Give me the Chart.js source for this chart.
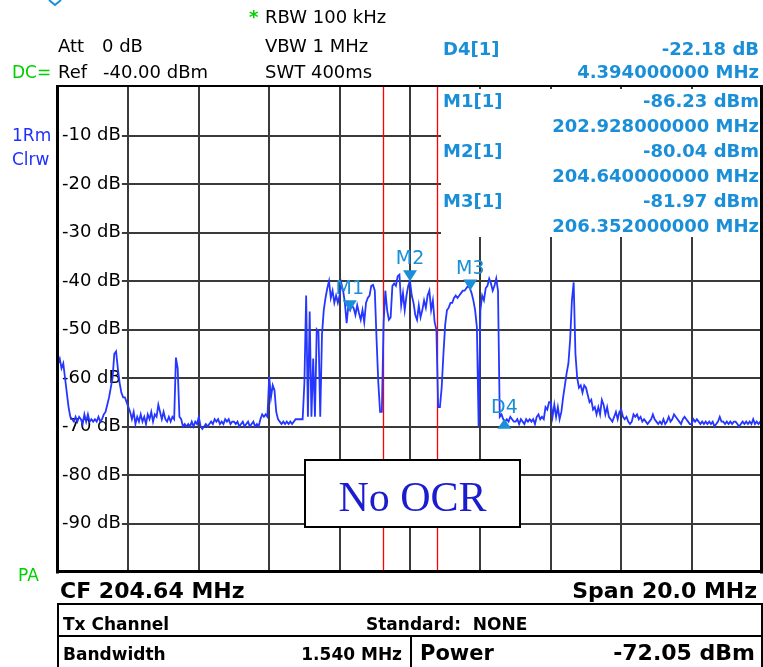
<!DOCTYPE html>
<html>
<head>
<meta charset="utf-8">
<title>Spectrum - Tx Channel</title>
<script src="https://cdn.jsdelivr.net/npm/chart.js@4.4.1/dist/chart.umd.min.js"></script>
<style>
  html, body { margin: 0; padding: 0; background: #fff; }
  #wrap { width: 763px; height: 667px; position: relative; }
</style>
</head>
<body>
<div id="wrap"><canvas id="spectrum"></canvas></div>
<script>
// --- DATA ---
const CF = 204.64;         // MHz
const SPAN = 20;           // MHz
const REF_LEVEL = -40;     // dBm
const CHANNEL_BW = 1.54;   // MHz
const CHANNEL_POWER = -72.05; // dBm
const yMin = -100;
const yMax = 0;
const yStep = 10;

// trace, 401 sweep points (dB rel. ref), one row = 1 MHz
const traceLevels = [
  -57, -56, -58, -57, -60, -63, -66, -68, -68.5, -69, -68, -69, -68, -68.5, -69.5, -67.5, -69, -67.5, -69, -68.5,
  -69, -68.5, -69, -68, -69, -68.5, -67.5, -67, -65.5, -64, -62, -60, -55, -54.5, -58, -61, -63, -64, -64, -65,
  -66, -67, -68.5, -67, -69.5, -68, -69, -67.5, -69, -68, -69.5, -67.5, -68.5, -67, -69, -67.5, -68, -65.5, -67, -68.5,
  -67, -68.5, -69, -68, -69, -68, -68.5, -55.8, -58, -68, -68.5, -70, -69.5, -70, -69.5, -70, -69, -70, -69, -69.5,
  -68, -70, -70.5, -70, -69.5, -70, -69.5, -69, -69.5, -68.5, -69, -68.5, -69.5, -69, -69.5, -68.5, -69, -68.5, -69.5, -69,
  -69, -69.5, -69, -70, -69.5, -69, -70, -69.5, -69, -70, -69.5, -69, -70, -69.5, -70, -68.5, -67.5, -68, -67.5, -68,
  -59.7, -64, -61.5, -62.5, -67, -68.5, -69, -69.5, -69, -69.5, -69, -69.5, -69, -69.5, -69, -68.5, -68.5, -68.5, -68.5, -68.5,
  -61, -43, -68, -46.3, -68, -56, -68, -50, -50.5, -68, -51, -46, -43.5, -41.5, -40, -43.5, -42, -44.5, -43, -44.5,
  -43, -40.5, -42, -44.5, -48.7, -45, -46, -45, -45.6, -47, -45, -46.6, -48, -46, -48.5, -44.5, -43.5, -43, -41, -40.8,
  -42, -52, -61, -67, -67, -48.6, -42, -46, -48, -47.5, -41, -40.5, -41, -39, -38.7, -45, -42.5, -46, -43, -41,
  -40, -43, -44.5, -47, -48, -45, -47.5, -46, -44, -45.5, -43, -42, -46, -44, -48.5, -50, -66, -66, -62, -55,
  -49, -46, -45.5, -44.5, -44.5, -43.5, -43, -43.5, -43, -42.5, -42, -42, -41.5, -41, -41.5, -42.5, -44, -46, -49.5, -70,
  -46, -43, -44, -41.5, -41, -39.5, -40.5, -42, -41, -39.5, -42, -68, -67.5, -68.5, -69, -68.5, -69, -68, -68.5, -69,
  -69, -68.5, -69.5, -68.5, -69, -69.5, -68.5, -69, -68.5, -69, -68.5, -69.5, -68, -67.5, -68.5, -68, -68.5, -66, -66.5, -65,
  -65, -68, -65.5, -68, -66, -68.5, -67, -64, -61.5, -59, -57, -52, -44, -40.3, -55, -60, -62, -61.5, -63, -61.5,
  -62, -63.5, -65, -64.5, -66.5, -66, -67.5, -66, -67.5, -64.5, -65.5, -67.5, -66, -68, -68.5, -69, -68, -67, -68.5, -67,
  -66.5, -68, -68.5, -68, -69, -69.5, -69, -67.5, -68, -67.5, -68.5, -68, -69, -68.5, -69, -69.5, -69, -68.5, -67.5, -68.5,
  -69, -69.5, -69, -69.5, -68.5, -69.5, -69, -68, -69, -68.5, -67.5, -68, -68.5, -69, -69.5, -68.5, -68, -68.5, -69, -69.5,
  -69.5, -68.5, -69, -68.5, -69, -69.5, -69, -69.5, -69, -69.5, -69, -69.5, -69, -70, -69.5, -69, -68, -69, -69, -69.5,
  -69, -69.5, -69, -69.5, -69, -69, -69.5, -70, -69.5, -69, -69.5, -69, -69.5, -69, -69.5, -68.5, -69.5, -69, -69.5, -69,
  -69
];

// markers (readouts in dBm / MHz)
const markerNames = ["M1", "M2", "M3"];
const markerFreqs = [202.928, 204.640, 206.352];
const markerLevels = [-86.23, -80.04, -81.97];
// delta marker, relative to M1
const deltaName = "D4";
const deltaFreq = 4.394;
const deltaLevel = -22.18;

// --- STYLE ---
const FONT = '"DejaVu Sans", Verdana, sans-serif';
const SKY = "#1a8fd8";
const TRACE = "#2436ff";
const GRID = "#3a3a3a";
const GREEN = "#00d000";

const sweepStart = CF - SPAN / 2;
const sweepStep = SPAN / (traceLevels.length - 1);
const tracePoints = traceLevels.map((v, i) => ({ x: sweepStart + i * sweepStep, y: v }));
const gridFreqs = Array.from({ length: 11 }, (_, k) => sweepStart + k * SPAN / 10);

function drawText(ctx, str, x, y, font, color, align) {
    ctx.font = font;
    ctx.fillStyle = color;
    ctx.textAlign = align || "left";
    ctx.textBaseline = "alphabetic";
    ctx.fillText(str, x, y);
}

const analyzerDecor = {
    id: "analyzerDecor",
    beforeDatasetsDraw(chart) {
        const { ctx, chartArea: a, scales: { x, y } } = chart;
        ctx.save();

        // horizontal grid starts right after the level labels
        ctx.font = `18px ${FONT}`;
        ctx.strokeStyle = GRID;
        ctx.lineWidth = 2;
        y.ticks.forEach(t => {
            if (t.value === yMin || t.value === yMax) return;
            const py = Math.round(y.getPixelForValue(t.value));
            const x0 = a.left + 4 + ctx.measureText(t.value + " dB").width + 1;
            ctx.beginPath();
            ctx.moveTo(x0, py);
            ctx.lineTo(a.right, py);
            ctx.stroke();
        });

        // marker table covers the grid
        ctx.fillStyle = "#fff";
        ctx.fillRect(441, a.top + 2, a.right - 442, 148);

        // channel limits
        ctx.strokeStyle = "#ff0000";
        ctx.lineWidth = 1.3;
        [CF - CHANNEL_BW / 2, CF + CHANNEL_BW / 2].forEach(f => {
            const px = Math.round(x.getPixelForValue(f)) + 0.5;
            ctx.beginPath();
            ctx.moveTo(px, a.top);
            ctx.lineTo(px, a.bottom);
            ctx.stroke();
        });
        ctx.restore();
    },
    afterDatasetsDraw(chart) {
        const { ctx, chartArea: a, scales: { x, y } } = chart;
        ctx.save();

        // markers
        const drawMarker = (name, f, lvl, up) => {
            const px = x.getPixelForValue(f);
            const py = y.getPixelForValue(lvl);
            ctx.fillStyle = SKY;
            ctx.beginPath();
            if (up) {
                ctx.moveTo(px, py); ctx.lineTo(px - 7, py + 10); ctx.lineTo(px + 7, py + 10);
            } else {
                ctx.moveTo(px, py); ctx.lineTo(px - 7, py - 11); ctx.lineTo(px + 7, py - 11);
            }
            ctx.closePath();
            ctx.fill();
            drawText(ctx, name, px, up ? py - 6 : py - 17, `19px ${FONT}`, SKY, "center");
        };
        markerNames.forEach((n, i) => drawMarker(n, markerFreqs[i], markerLevels[i] - REF_LEVEL, false));
        drawMarker(deltaName, markerFreqs[0] + deltaFreq, markerLevels[0] - REF_LEVEL + deltaLevel, true);

        // frame
        ctx.strokeStyle = "#000";
        ctx.lineWidth = 3;
        ctx.beginPath();
        ctx.moveTo(57.5, a.top - 1); ctx.lineTo(57.5, a.bottom + 1.5);
        ctx.moveTo(56, a.bottom - 0.5); ctx.lineTo(763, a.bottom - 0.5);
        ctx.moveTo(761.5, a.top - 1); ctx.lineTo(761.5, a.bottom + 1.5);
        ctx.stroke();
        ctx.lineWidth = 2;
        ctx.beginPath();
        ctx.moveTo(56, a.top - 1); ctx.lineTo(763, a.top - 1);
        ctx.stroke();

        // watermark box
        ctx.fillStyle = "#fff";
        ctx.fillRect(305, 460, 215, 67);
        ctx.strokeStyle = "#000";
        ctx.lineWidth = 2;
        ctx.strokeRect(305, 460, 215, 67);
        drawText(ctx, "No OCR", 412.5, 511, '42px "Liberation Serif", "Times New Roman", serif', "#1c1ccf", "center");

        // header
        const f18 = `18px ${FONT}`;
        drawText(ctx, "Att", 58, 52, f18, "#000");
        drawText(ctx, "0 dB", 102, 52, f18, "#000");
        drawText(ctx, "Ref", 58, 78, f18, "#000");
        drawText(ctx, REF_LEVEL.toFixed(2) + " dBm", 103, 78, f18, "#000");
        drawText(ctx, "*", 249, 23, `bold 18px ${FONT}`, GREEN);
        drawText(ctx, "RBW 100 kHz", 265, 23, f18, "#000");
        drawText(ctx, "VBW 1 MHz", 265, 52, f18, "#000");
        drawText(ctx, "SWT 400ms", 265, 78, f18, "#000");
        drawText(ctx, "DC=", 12, 78, `17px ${FONT}`, GREEN);
        drawText(ctx, "1Rm", 12, 141, `17px ${FONT}`, "#1f2fff");
        drawText(ctx, "Clrw", 12, 165, `17px ${FONT}`, "#1f2fff");
        drawText(ctx, "PA", 18, 581, `17px ${FONT}`, GREEN);

        // little blue chevron at the top
        ctx.strokeStyle = SKY;
        ctx.lineWidth = 2;
        ctx.beginPath();
        ctx.moveTo(49, 0); ctx.lineTo(55, 5); ctx.lineTo(61, 0);
        ctx.stroke();

        // marker readouts
        const fb = `bold 18px ${FONT}`;
        const rx = 759;
        drawText(ctx, deltaName + "[1]", 443, 55, fb, SKY);
        drawText(ctx, deltaLevel.toFixed(2) + " dB", rx, 55, fb, SKY, "right");
        drawText(ctx, deltaFreq.toFixed(9) + " MHz", rx, 78, fb, SKY, "right");
        markerNames.forEach((n, i) => {
            const by = 107 + i * 50;
            drawText(ctx, n + "[1]", 443, by, fb, SKY);
            drawText(ctx, markerLevels[i].toFixed(2) + " dBm", rx, by, fb, SKY, "right");
            drawText(ctx, markerFreqs[i].toFixed(9) + " MHz", rx, by + 25, fb, SKY, "right");
        });

        // footer
        drawText(ctx, "CF " + CF.toFixed(2) + " MHz", 60, 598, `bold 22px ${FONT}`, "#000");
        drawText(ctx, "Span " + SPAN.toFixed(1) + " MHz", 757, 598, `bold 22px ${FONT}`, "#000", "right");

        ctx.strokeStyle = "#000";
        ctx.lineWidth = 2;
        ctx.beginPath();
        ctx.moveTo(58, 668); ctx.lineTo(58, 604); ctx.lineTo(762, 604); ctx.lineTo(762, 668);
        ctx.moveTo(58, 636); ctx.lineTo(762, 636);
        ctx.moveTo(411, 636); ctx.lineTo(411, 668);
        ctx.stroke();

        const f17b = `bold 17px ${FONT}`;
        drawText(ctx, "Tx Channel", 63, 630, f17b, "#000");
        drawText(ctx, "Standard:  NONE", 366, 630, f17b, "#000");
        drawText(ctx, "Bandwidth", 63, 660, f17b, "#000");
        drawText(ctx, CHANNEL_BW.toFixed(3) + " MHz", 402, 660, f17b, "#000", "right");
        drawText(ctx, "Power", 420, 660, `bold 21px ${FONT}`, "#000");
        drawText(ctx, CHANNEL_POWER.toFixed(2) + " dBm", 755, 660, `bold 22px ${FONT}`, "#000", "right");

        ctx.restore();
    }
};

new Chart(document.getElementById("spectrum"), {
    type: "line",
    data: {
        datasets: [{
            label: "1Rm Clrw",
            data: tracePoints,
            borderColor: TRACE,
            borderWidth: 1.8,
            pointRadius: 0,
            tension: 0,
            fill: false
        }]
    },
    options: {
        responsive: true,
        maintainAspectRatio: false,
        animation: false,
        events: [],
        layout: { padding: { left: 58, right: 1, top: 87, bottom: 95 } },
        plugins: {
            legend: { display: false },
            tooltip: { enabled: false }
        },
        scales: {
            x: {
                type: "linear",
                min: sweepStart,
                max: sweepStart + SPAN,
                afterBuildTicks: s => { s.ticks = gridFreqs.map(v => ({ value: v })); },
                afterFit: s => { s.height = 0; },
                grid: { color: GRID, lineWidth: 2, drawTicks: false },
                border: { display: false },
                ticks: { display: false }
            },
            y: {
                type: "linear",
                min: yMin,
                max: yMax,
                afterFit: s => { s.width = 0; },
                grid: { display: false, drawTicks: false },
                border: { display: false },
                ticks: {
                    stepSize: yStep,
                    mirror: true,
                    padding: 4,
                    color: "#000",
                    font: { family: FONT, size: 18 },
                    callback: v => (v === yMin || v === yMax) ? "" : v + " dB"
                }
            }
        }
    },
    plugins: [analyzerDecor]
});
</script>
</body>
</html>
